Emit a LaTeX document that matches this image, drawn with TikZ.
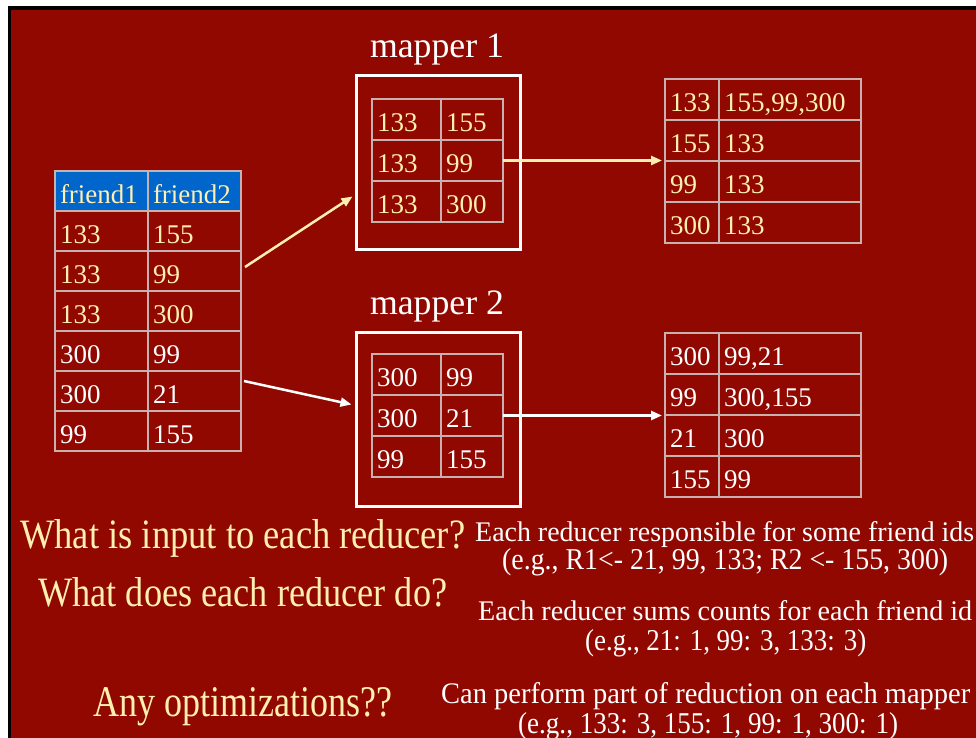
\documentclass[tikz,border=0pt]{standalone}
\usepackage{fontspec}
\usepackage{graphicx}
\setmainfont{Liberation Serif}
\usetikzlibrary{arrows.meta}

\definecolor{slidered}{RGB}{144,8,0}
\definecolor{cream}{RGB}{255,240,178}
\definecolor{hdrblue}{RGB}{0,102,204}
\definecolor{gridgray}{RGB}{200,178,176}

\newcommand\tabfont{\fontsize{27}{30}\selectfont}
% text squeezed to a given width and height above its baseline
\newcommand\slideline[3]{\resizebox{#1pt}{#2pt}{#3}}

\begin{document}
\begin{tikzpicture}[x=1pt,y=-1pt,
  cell/.style={draw=gridgray, line width=1.1pt, inner xsep=5pt, inner ysep=0pt,
    outer sep=0pt, anchor=north west, text height=24pt, text depth=0pt,
    align=left, font=\tabfont},
  mbox/.style={draw=white, line width=3pt, anchor=north west, inner sep=0pt,
    minimum width=164pt, minimum height=174pt},
  mlabel/.style={anchor=base, inner sep=0pt, text=white, font=\fontsize{34}{34}\selectfont},
  qtext/.style={anchor=base west, inner sep=0pt, text=cream, font=\fontsize{40}{40}\selectfont},
  atext/.style={anchor=base west, inner sep=0pt, text=white, font=\fontsize{28}{28}\selectfont},
  arr/.style={line width=2.5pt, -{Triangle[length=11pt,width=9pt]}}]

\useasboundingbox (0,0) rectangle (976,738);
% slide background with its dark frame
\fill[white] (0,0) rectangle (976,738);
\fill[black] (8,6) rectangle (976,738);
\fill[slidered] (11,10) rectangle (976,738);

% input table
\node[cell, fill=hdrblue, text=cream, text width=83pt, minimum height=40pt] (L01) at (55,171) {friend1};
\node[cell, fill=hdrblue, text=cream, text width=83pt, minimum height=40pt] (L02) at (148,171) {friend2};
\foreach \r/\a/\b/\c in {1/133/155/cream, 2/133/99/cream, 3/133/300/cream,
                         4/300/99/white, 5/300/21/white, 6/99/155/white}{
  \node[cell, text=\c, text width=83pt, minimum height=40pt] (L\r1) at (55,171+40*\r) {\a};
  \node[cell, text=\c, text width=83pt, minimum height=40pt] (L\r2) at (148,171+40*\r) {\b};
}

% mapper 1
\node[mlabel] (lab1) at (437,58) {\resizebox{134pt}{!}{mapper 1}};
\node[mbox] (B1) at (355,74) {};
\foreach \r/\a/\b in {1/133/155, 2/133/99, 3/133/300}{
  \node[cell, text=cream, text width=59pt, minimum height=41pt] (M1\r1) at (372,58+41*\r) {\a};
  \node[cell, text=cream, text width=52pt, minimum height=41pt] (M1\r2) at (441,58+41*\r) {\b};
}

% mapper 2
\node[mlabel] (lab2) at (437,314) {\resizebox{134pt}{!}{mapper 2}};
\node[mbox] (B2) at (355,331) {};
\foreach \r/\a/\b in {1/300/99, 2/300/21, 3/99/155}{
  \node[cell, text=white, text width=59pt, minimum height=41pt] (M2\r1) at (372,313+41*\r) {\a};
  \node[cell, text=white, text width=52pt, minimum height=41pt] (M2\r2) at (441,313+41*\r) {\b};
}

% grouped output of mapper 1
\foreach \r/\a/\b in {1/133/{155,99,300}, 2/155/133, 3/99/133, 4/300/133}{
  \node[cell, text=cream, text width=44pt, minimum height=41pt] (R1\r1) at (665,38+41*\r) {\a};
  \node[cell, text=cream, text width=132pt, minimum height=41pt] (R1\r2) at (719,38+41*\r) {\b};
}

% grouped output of mapper 2
\foreach \r/\a/\b in {1/300/{99,21}, 2/99/{300,155}, 3/21/300, 4/155/99}{
  \node[cell, text=white, text width=44pt, minimum height=41pt] (R2\r1) at (665,292+41*\r) {\a};
  \node[cell, text=white, text width=132pt, minimum height=41pt] (R2\r2) at (719,292+41*\r) {\b};
}

% connectors
\coordinate (a1s) at ([xshift=4pt,yshift=4pt]L22.east);
\coordinate (a1e) at ([xshift=-2.5pt,yshift=-34pt]B1.west);
\draw[arr, cream] (a1s) -- (a1e);
\coordinate (a2s) at ([xshift=3pt,yshift=10pt]L52.east);
\coordinate (a2e) at ([xshift=-3.5pt,yshift=15pt]B2.west);
\draw[arr, white] (a2s) -- (a2e);
\draw[arr, cream] (M122.east) -- ([xshift=-3pt]M122.east -| R121.west);
\draw[arr, white] (M222.east) -- ([xshift=-3pt]M222.east -| R231.west);

% questions and answers
\node[qtext] (q1) at (20,548) {\slideline{445}{29}{What is input to each reducer?}};
\node[atext] (a1a) at (475,541) {\slideline{499}{20}{Each reducer responsible for some friend ids}};
\node[atext] (a1b) at (502,569) {\slideline{446}{21}{(e.g., R1<- 21, 99, 133; R2 <- 155, 300)}};

\node[qtext] (q2) at (38,606) {\slideline{409}{29}{What does each reducer do?}};
\node[atext] (a2a) at (478,620) {\slideline{494}{20}{Each reducer sums counts for each friend id}};
\node[atext] (a2b) at (585,650) {\slideline{281}{21}{(e.g., 21: 1, 99: 3, 133: 3)}};

\node[qtext] (q3) at (93,716) {\slideline{299}{29}{Any optimizations??}};
\node[atext] (a3a) at (441,703) {\slideline{529}{21}{Can perform part of reduction on each mapper}};
\node[atext] (a3b) at (518,733) {\slideline{380}{21}{(e.g., 133: 3, 155: 1, 99: 1, 300: 1)}};
\end{tikzpicture}
\end{document}
